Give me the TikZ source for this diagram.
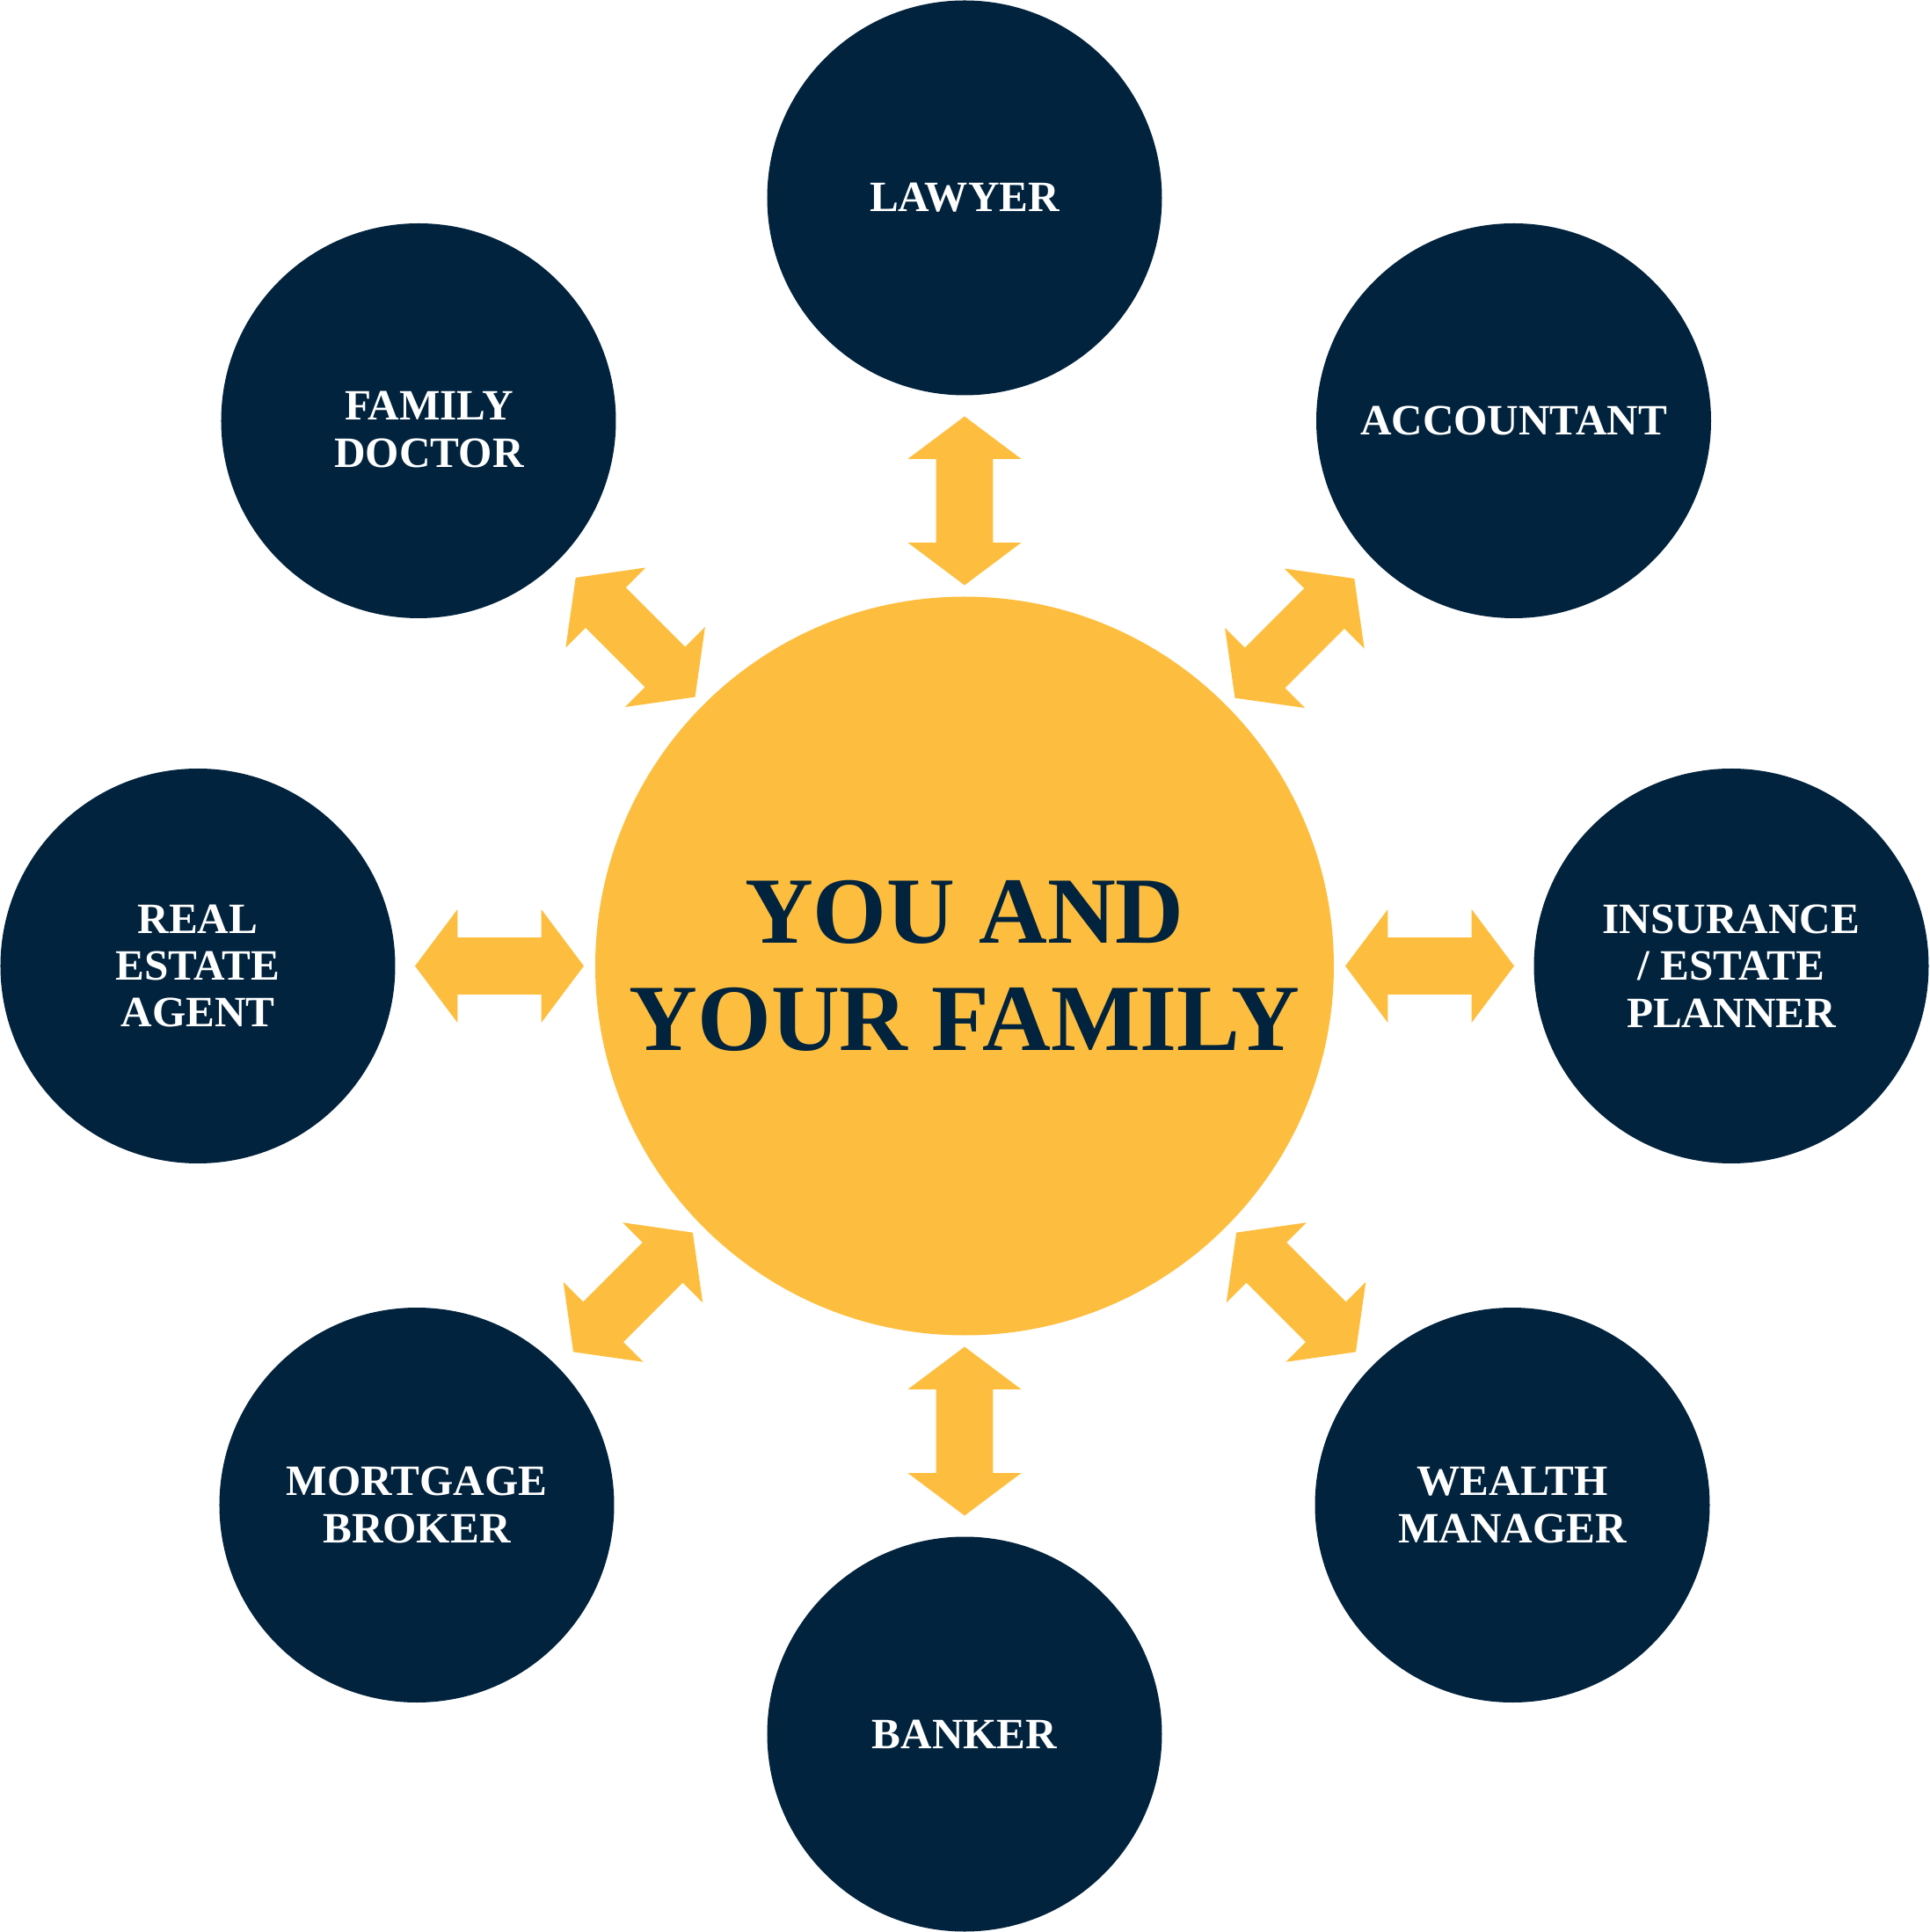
\documentclass[tikz,border=0pt]{standalone}
\usepackage{fontspec}
\setmainfont{Liberation Serif}
\usepackage{tikz}
\usetikzlibrary{shapes.arrows, positioning, calc}

\definecolor{navy}{HTML}{02233D}
\definecolor{gold}{HTML}{FDBE3F}

\begin{document}
\begin{tikzpicture}[
    hub/.style={circle, fill=gold, minimum size=16.8cm, inner sep=0pt,
                align=center, text=navy,
                font=\fontsize{61.3}{69.3}\selectfont\bfseries},
    advisor/.style={circle, fill=navy, minimum size=8.98cm, inner sep=0pt,
                    align=center, text=white,
                    font=\fontsize{28}{30.3}\selectfont\bfseries},
    advlabel/.style={inner sep=0pt, align=center, text=white,
                     font=\fontsize{28}{30.3}\selectfont\bfseries},
    link/.style={double arrow, fill=gold, draw=none,
                 inner xsep=0pt, inner ysep=0.64cm,
                 minimum height=3.84cm,
                 double arrow head extend=0.64cm,
                 double arrow tip angle=106.26}
]
\useasboundingbox (-21.94,-21.97) rectangle (21.94,21.97);

% centre
\node[hub] (you) at (0,0) {YOU AND\\YOUR FAMILY};

% advisors round the centre
\node[advisor] (lawyer)     at (0,17.47)        {LAWYER};
\node[advisor] (accountant) at (12.49,12.40)    {ACCOUNTANT};
\node[advisor] (insurance)  at (17.44,0)        {INSURANCE\\/ ESTATE\\PLANNER};
\node[advisor] (wealth)     at (12.46,-12.26)   {WEALTH\\MANAGER};
\node[advisor] (banker)     at (0,-17.47)       {BANKER};
\node[advisor] (mortgage)   at (-12.46,-12.26)  {MORTGAGE\\BROKER};
\node[advisor] (realestate) at (-17.44,0)       {REAL\\ESTATE\\AGENT};
\node[advisor] (doctor)     at (-12.42,12.40)   {};
\node[advlabel, xshift=0.24cm, yshift=-0.2cm] (doctor-text) at (doctor)
    {FAMILY\\DOCTOR};

% two-way arrows
\foreach \who/\ang in {lawyer/90, accountant/45, insurance/0, wealth/-45,
                       banker/90, mortgage/45, realestate/0, doctor/-45}
    \node[link, rotate=\ang] (link-\who) at ($(you)!10.58cm!(\who)$) {};

\end{tikzpicture}
\end{document}
